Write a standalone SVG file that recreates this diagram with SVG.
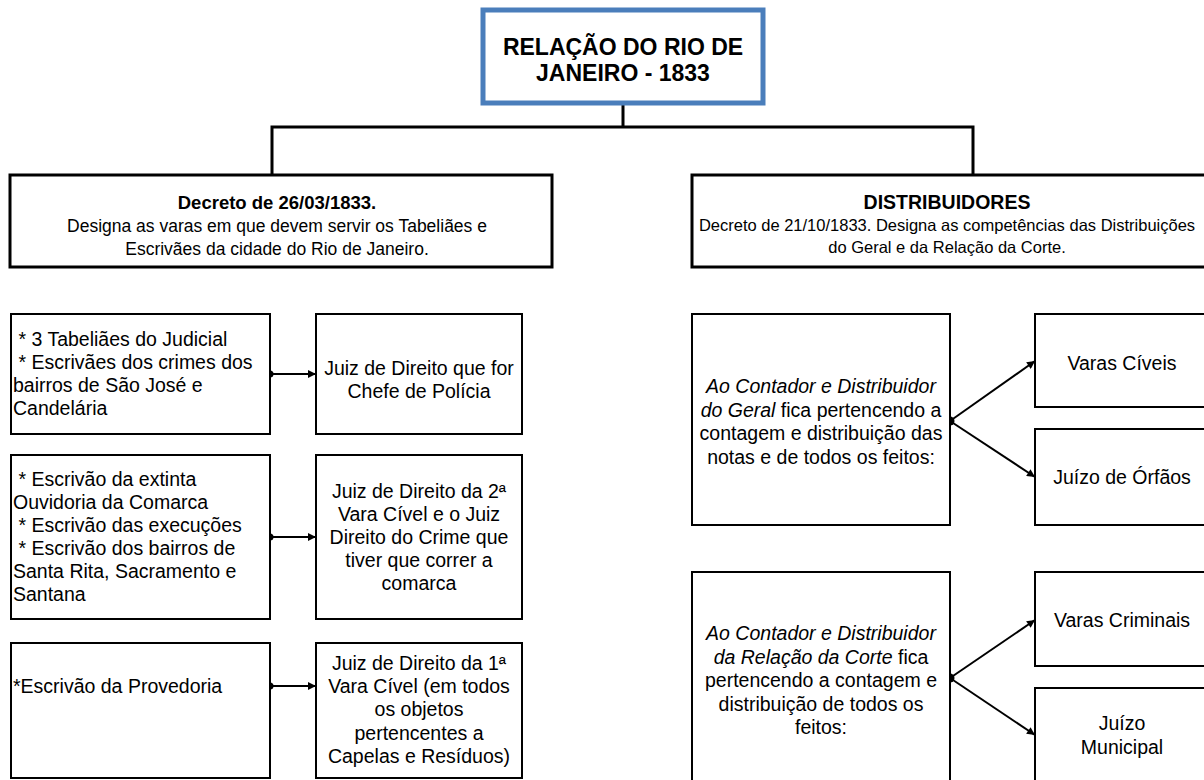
<svg xmlns="http://www.w3.org/2000/svg" width="1204" height="780" viewBox="0 0 1204 780">
<defs>
<style>
.box{fill:#fff;stroke:#000;stroke-width:2}
.hdr{fill:#fff;stroke:#000;stroke-width:3}
.ttl{fill:#fff;stroke:#4A7EBB;stroke-width:5}
.t{font-family:"Liberation Sans",Arial,sans-serif;font-size:19.5px;fill:#000}
.c{text-anchor:middle}
.b{font-weight:bold}
.i{font-style:italic}
.tree{fill:none;stroke:#000;stroke-width:3}
.arr{fill:none;stroke:#000;stroke-width:2;marker-end:url(#ah)}
</style>
<marker id="ah" viewBox="0 0 10 10" refX="10" refY="5" markerUnits="userSpaceOnUse" markerWidth="9" markerHeight="8" orient="auto">
<path d="M0,0 L10,5 L0,10 z" fill="#000"/>
</marker>
</defs>
<rect width="1204" height="780" fill="#fff"/>

<g id="connectors">
<path class="tree" d="M623,103 V127 M272,127 H973 M272,125.5 V175 M973,125.5 V175"/>
<path class="arr" d="M270,374 H316"/>
<path class="arr" d="M270,537 H316"/>
<path class="arr" d="M270,686 H316"/>
<path class="arr" d="M950,421 L1035,361"/>
<path class="arr" d="M950,421 L1035,477"/>
<path class="arr" d="M950,678 L1035,620"/>
<path class="arr" d="M950,678 L1035,735"/>
<circle cx="270" cy="374" r="3.5"/>
<circle cx="270" cy="537" r="3.5"/>
<circle cx="270" cy="686" r="3.5"/>
<circle cx="950" cy="421" r="4.5"/>
<circle cx="950" cy="678" r="4.5"/>
</g>

<g id="title">
<rect class="ttl" x="483" y="10" width="280" height="93"/>
<text class="t c b" x="623" y="55" style="font-size:23px">RELAÇÃO DO RIO DE</text>
<text class="t c b" x="623" y="81" style="font-size:23px">JANEIRO - 1833</text>
</g>

<g id="decreto">
<rect class="hdr" x="10" y="175" width="542" height="92"/>
<text class="t c b" x="277" y="209" style="font-size:18.5px">Decreto de 26/03/1833.</text>
<text class="t c" x="277" y="232" style="font-size:17.5px">Designa as varas em que devem servir os Tabeliães e</text>
<text class="t c" x="277" y="255" style="font-size:17.5px">Escrivães da cidade do Rio de Janeiro.</text>
</g>

<g id="distribuidores">
<rect class="hdr" x="692" y="175" width="530" height="92"/>
<text class="t c b" x="947" y="209" style="font-size:19.5px">DISTRIBUIDORES</text>
<text class="t c" x="947" y="231" style="font-size:16.5px">Decreto de 21/10/1833. Designa as competências das Distribuições</text>
<text class="t c" x="947" y="253" style="font-size:16.5px">do Geral e da Relação da Corte.</text>
</g>

<g id="l1">
<rect class="box" x="11" y="314" width="259" height="120"/>
<text class="t" x="18.5" y="346">* 3 Tabeliães do Judicial</text>
<text class="t" x="18.5" y="369">* Escrivães dos crimes dos</text>
<text class="t" x="13" y="392">bairros de São José e</text>
<text class="t" x="13" y="415">Candelária</text>
</g>

<g id="r1">
<rect class="box" x="316" y="314" width="206" height="120"/>
<text class="t c" x="419" y="375">Juiz de Direito que for</text>
<text class="t c" x="419" y="398">Chefe de Polícia</text>
</g>

<g id="l2">
<rect class="box" x="11" y="455" width="259" height="164"/>
<text class="t" x="18.5" y="486">* Escrivão da extinta</text>
<text class="t" x="13" y="509">Ouvidoria da Comarca</text>
<text class="t" x="18.5" y="532">* Escrivão das execuções</text>
<text class="t" x="18.5" y="555">* Escrivão dos bairros de</text>
<text class="t" x="13" y="578">Santa Rita, Sacramento e</text>
<text class="t" x="13" y="601">Santana</text>
</g>

<g id="r2">
<rect class="box" x="316" y="455" width="206" height="164"/>
<text class="t c" x="419" y="498">Juiz de Direito da 2ª</text>
<text class="t c" x="419" y="521">Vara Cível e o Juiz</text>
<text class="t c" x="419" y="544">Direito do Crime que</text>
<text class="t c" x="419" y="567">tiver que correr a</text>
<text class="t c" x="419" y="590">comarca</text>
</g>

<g id="l3">
<rect class="box" x="11" y="643" width="259" height="135"/>
<text class="t" x="13" y="693">*Escrivão da Provedoria</text>
</g>

<g id="r3">
<rect class="box" x="316" y="643" width="206" height="135"/>
<text class="t c" x="419" y="670">Juiz de Direito da 1ª</text>
<text class="t c" x="419" y="693">Vara Cível (em todos</text>
<text class="t c" x="419" y="716">os objetos</text>
<text class="t c" x="419" y="740">pertencentes a</text>
<text class="t c" x="419" y="763">Capelas e Resíduos)</text>
</g>

<g id="geral">
<rect class="box" x="692" y="314" width="258" height="211"/>
<text class="t c i" x="821" y="393">Ao Contador e Distribuidor</text>
<text class="t c" x="821" y="417"><tspan class="i">do Geral</tspan> fica pertencendo a</text>
<text class="t c" x="821" y="440">contagem e distribuição das</text>
<text class="t c" x="821" y="464">notas e de todos os feitos:</text>
</g>

<g id="varas-civeis">
<rect class="box" x="1035" y="314" width="180" height="93"/>
<text class="t c" x="1122" y="370">Varas Cíveis</text>
</g>

<g id="orfaos">
<rect class="box" x="1035" y="429" width="180" height="96"/>
<text class="t c" x="1122" y="484">Juízo de Órfãos</text>
</g>

<g id="corte">
<rect class="box" x="692" y="572" width="258" height="215"/>
<text class="t c i" x="821" y="640">Ao Contador e Distribuidor</text>
<text class="t c" x="821" y="663.5"><tspan class="i">da Relação da Corte</tspan> fica</text>
<text class="t c" x="821" y="687">pertencendo a contagem e</text>
<text class="t c" x="821" y="710.5">distribuição de todos os</text>
<text class="t c" x="821" y="734">feitos:</text>
</g>

<g id="varas-criminais">
<rect class="box" x="1035" y="572" width="180" height="94"/>
<text class="t c" x="1122" y="627">Varas Criminais</text>
</g>

<g id="municipal">
<rect class="box" x="1035" y="688" width="180" height="100"/>
<text class="t c" x="1122" y="730">Juízo</text>
<text class="t c" x="1122" y="754">Municipal</text>
</g>
</svg>
